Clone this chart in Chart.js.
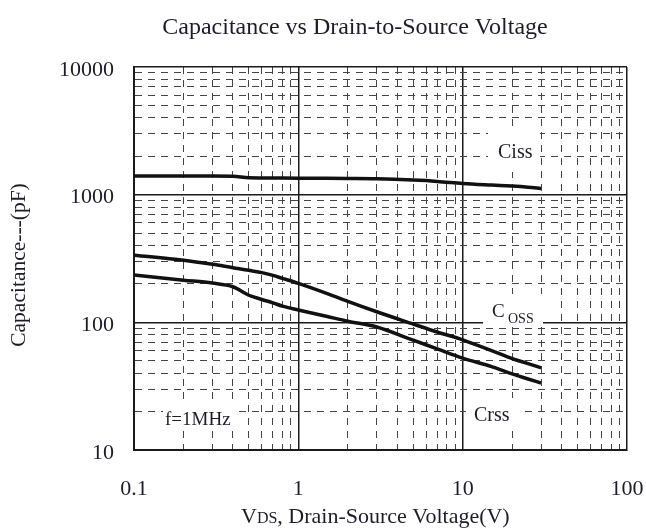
<!DOCTYPE html>
<html>
<head>
<meta charset="utf-8">
<script src="https://cdn.jsdelivr.net/npm/chart.js@4.4.1/dist/chart.umd.min.js"></script>
<style>
  html, body { margin: 0; padding: 0; background: #fff; }
  #cap { display: block; }
</style>
</head>
<body>
<canvas id="cap" width="646" height="530"></canvas>
<script>
// drain-source voltage (V) sample points
const vds  = [0.1, 0.2, 0.3, 0.4, 0.5, 0.6, 0.7, 0.8, 1, 1.5, 2, 3, 5, 7, 10, 15, 20, 25, 30];
// capacitances in pF
const ciss = [1400, 1400, 1400, 1395, 1355, 1352, 1350, 1348, 1345, 1342, 1338, 1330, 1300, 1270, 1225, 1190, 1168, 1145, 1120];
const coss = [336, 307, 285, 268, 256, 245, 233, 221, 202, 168, 146, 121, 97, 84, 73, 60, 52, 47.5, 44];
const crss = [235, 214, 203, 190, 163, 151, 142, 134, 125, 111, 102, 92, 72.5, 62, 52.5, 45, 39.5, 36, 33.5];

const xDecades = [0.1, 1, 10, 100];
const yDecades = [10, 100, 1000, 10000];
const xTickLabels = ['0.1', '1', '10', '100'];
const yTickLabels = ['10', '100', '1000', '10000'];

const SERIF = '"Liberation Serif", "DejaVu Serif", serif';
const INK = '#1d1d28';

const isMajor = v => Math.abs(Math.log10(v) - Math.round(Math.log10(v))) < 1e-6;

// every 1..9 multiple inside the decade range
function logTicks(decades) {
  const out = [];
  decades.forEach((d, i) => {
    if (i === decades.length - 1) { out.push(d); return; }
    for (let m = 1; m <= 9; m++) out.push(+(d * m).toPrecision(6));
  });
  return out;
}
const xTicks = logTicks(xDecades);
const yTicks = logTicks(yDecades);

const toPoints = ys => vds.map((x, i) => ({ x, y: ys[i] }));

const gridFor = () => ({
  drawTicks: false,
  color: ctx => (ctx.tick && isMajor(ctx.tick.value)) ? '#1a1a1a' : '#444',
  lineWidth: ctx => (ctx.tick && isMajor(ctx.tick.value)) ? 1.5 : 1
});
const borderFor = () => ({
  color: '#1a1a1a', width: 2,
  dash: ctx => (ctx.tick && !isMajor(ctx.tick.value)) ? [7, 6] : []
});

// white patches behind the in-plot captions, then the captions
const captions = {
  id: 'captions',
  beforeDatasetsDraw(chart) {
    const c = chart.ctx;
    c.save();
    c.fillStyle = '#fff';
    [[488, 128, 52, 44], [483, 294, 60, 32], [466, 398, 56, 30], [163, 403, 72, 27]]
      .forEach(([x, y, w, h]) => c.fillRect(x, y, w, h));
    c.fillStyle = INK;
    c.textBaseline = 'alphabetic';
    c.textAlign = 'left';
    c.font = '20px ' + SERIF;
    c.fillText('Ciss', 498, 158);
    c.fillText('Crss', 474, 421);
    c.font = '19px ' + SERIF;
    c.fillText('f=1MHz', 165, 425);
    c.font = '19px ' + SERIF;
    c.fillText('C', 492, 317);
    c.font = '14px ' + SERIF;
    c.fillText('OSS', 508, 323);
    c.restore();
  },
  afterDraw(chart) {
    const c = chart.ctx;
    c.save();
    c.fillStyle = INK;
    c.textBaseline = 'alphabetic';
    c.textAlign = 'center';
    c.font = '24px ' + SERIF;
    c.fillText('Capacitance vs Drain-to-Source Voltage', 355, 34);

    // x axis title with subscript
    c.textAlign = 'left';
    let x = 241;
    c.font = '22px ' + SERIF;
    c.fillText('V', x, 523); x += c.measureText('V').width;
    c.font = '16px ' + SERIF;
    c.fillText('DS', x, 523); x += c.measureText('DS').width;
    c.font = '22px ' + SERIF;
    c.fillText(', Drain-Source Voltage(V)', x, 523);

    // y axis title
    c.font = '21.5px ' + SERIF;
    c.translate(19, 265);
    c.rotate(-Math.PI / 2);
    c.textAlign = 'center';
    c.textBaseline = 'middle';
    c.fillText('Capacitance---(pF)', 0, 0);
    c.restore();
  }
};

const lineStyle = { borderColor: '#111', borderWidth: 3.5, pointRadius: 0, fill: false, cubicInterpolationMode: 'monotone' };

new Chart(document.getElementById('cap'), {
  type: 'line',
  data: {
    datasets: [
      { label: 'Ciss', data: toPoints(ciss), ...lineStyle },
      { label: 'Coss', data: toPoints(coss), ...lineStyle },
      { label: 'Crss', data: toPoints(crss), ...lineStyle }
    ]
  },
  options: {
    responsive: false,
    animation: false,
    layout: { padding: { top: 67, right: 19, bottom: 0, left: 0 } },
    plugins: { legend: { display: false }, tooltip: { enabled: false }, title: { display: false } },
    scales: {
      x: {
        type: 'logarithmic', min: 0.1, max: 100,
        afterBuildTicks: axis => { axis.ticks = xTicks.map(v => ({ value: v })); },
        afterFit: axis => { axis.height = 80; axis.paddingLeft = 0; axis.paddingRight = 0; },
        grid: gridFor(), border: borderFor(),
        ticks: {
          autoSkip: false, maxRotation: 0, padding: 26, color: INK,
          font: { family: SERIF, size: 22 },
          callback: v => { const i = xDecades.findIndex(d => Math.abs(d - v) < d * 1e-6); return i >= 0 ? xTickLabels[i] : ''; }
        }
      },
      y: {
        type: 'logarithmic', min: 10, max: 10000,
        afterBuildTicks: axis => { axis.ticks = yTicks.map(v => ({ value: v })); },
        afterFit: axis => { axis.width = 134; axis.paddingTop = 0; axis.paddingBottom = 0; },
        grid: gridFor(), border: borderFor(),
        ticks: {
          autoSkip: false, padding: 20, labelOffset: 3, color: INK,
          font: { family: SERIF, size: 22 },
          callback: v => { const i = yDecades.findIndex(d => Math.abs(d - v) < d * 1e-6); return i >= 0 ? yTickLabels[i] : ''; }
        }
      }
    }
  },
  plugins: [captions]
});
</script>
</body>
</html>
